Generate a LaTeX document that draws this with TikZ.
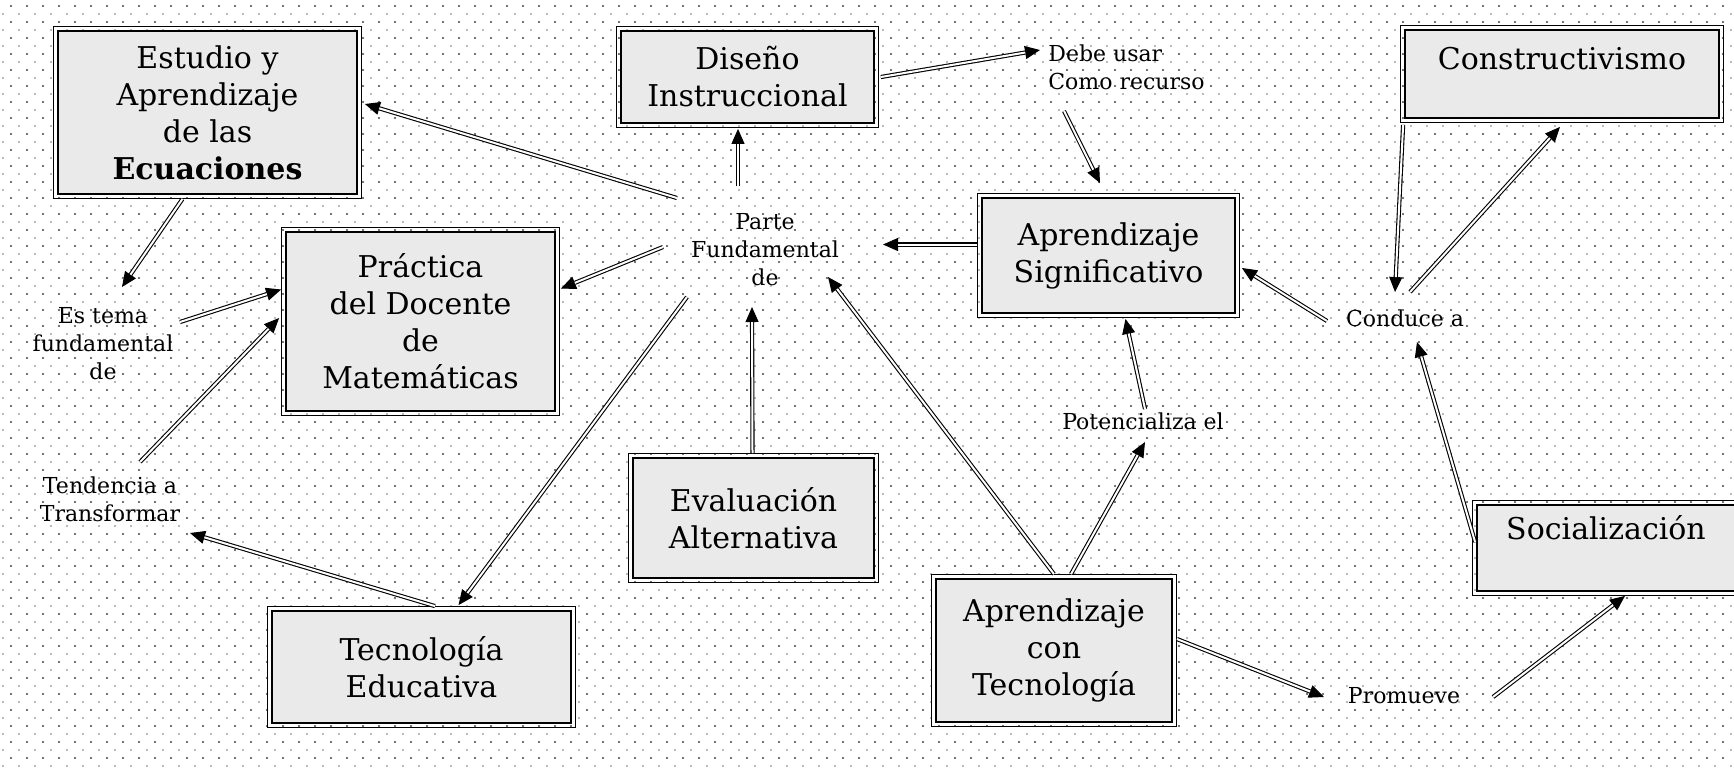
\documentclass[tikz,border=0pt]{standalone}
\usepackage{fontspec}
\setmainfont{DejaVu Serif}
\usetikzlibrary{arrows.meta,calc}
\definecolor{boxfill}{RGB}{234,234,234}
\definecolor{dotc}{RGB}{70,70,70}
\definecolor{dotl}{RGB}{115,115,115}
\newcommand{\bigf}{\fontsize{15}{18.5}\selectfont}
\newcommand{\smallf}{\fontsize{11}{14}\selectfont}
\newcommand{\dar}[2]{\draw[tipln] #1 -- #2; \draw[dln] #1 -- #2;}
\begin{document}
\begin{tikzpicture}[x=0.5pt,y=-0.5pt,
  box/.style={draw, line width=0.9pt, fill=boxfill, inner sep=0pt, align=center, font=\bigf},
  boxone/.style={draw, line width=0.9pt, fill=boxfill, inner sep=0pt, font=\bigf},
  lab/.style={align=center, font=\smallf, inner sep=1pt},
  dotrow/.style={draw=dotc, line width=1.05pt, line cap=round, dash pattern=on 0pt off 8pt},
  dotrowl/.style={draw=dotl, line width=0.8pt, line cap=round, dash pattern=on 0pt off 8pt},
  tipln/.style={line width=0.5pt, -{Triangle[length=7.5pt,width=6.5pt]}},
  dln/.style={draw, double=white, double distance=1pt, line width=0.55pt, shorten >=7.5pt}]
\useasboundingbox (0,0) rectangle (1734,768);
\clip (0,0) rectangle (1734,768);
\fill[white] (0,0) rectangle (1734,768);
\foreach \j in {0,...,47} {
  \draw[dotrow] (11,6+\j*16) -- (1745,6+\j*16);
  \draw[dotrowl] (3,14+\j*16) -- (1745,14+\j*16);
}

% boxes
\node[box, minimum width=149.5pt, minimum height=81.5pt] (estudio) at (207.5,112.5) {Estudio y\\Aprendizaje\\de las\\\textbf{Ecuaciones}};
\node[box, minimum width=126.5pt, minimum height=46pt] (diseno) at (747.5,77) {Diseño\\Instruccional};
\node[boxone, minimum width=157pt, text height=19.75pt, text depth=24.25pt] (constr) at (1562,74) {Constructivismo};
\node[box, minimum width=134.5pt, minimum height=89.5pt] (practica) at (420.5,321.5) {Práctica\\del Docente\\de\\Matemáticas};
\node[box, minimum width=126.5pt, minimum height=57.5pt] (signif) at (1108.5,255.5) {Aprendizaje\\Significativo};
\node[box, minimum width=120.5pt, minimum height=60pt] (evalu) at (753.5,518) {Evaluación\\Alternativa};
\node[box, minimum width=149.5pt, minimum height=56pt] (tecedu) at (421.5,667) {Tecnología\\Educativa};
\node[box, minimum width=118pt, minimum height=71.5pt] (contec) at (1054,650.5) {Aprendizaje\\con\\Tecnología};
\node[boxone, minimum width=129pt, text height=17pt, text depth=26pt] (social) at (1606,548) {Socialización};

\foreach \n in {estudio,diseno,constr,practica,signif,evalu,tecedu,contec,social}
  \draw[line width=0.5pt] ($(\n.north west)+(-4,-4)$) rectangle ($(\n.south east)+(4,4)$);

% labels
\node[lab] (parte) at (765,250) {Parte\\Fundamental\\de};
\node[lab] (estema) at (103,344) {Es tema\\fundamental\\de};
\node[lab] (tend) at (110,499) {Tendencia a\\Transformar};
\node[lab, align=left, anchor=west] (debe) at (1046,67) {Debe usar\\Como recurso};
\node[lab] (potenc) at (1143,421) {Potencializa el};
\node[lab] (conduce) at (1405,318) {Conduce a};
\node[lab] (promueve) at (1404,696) {Promueve};

% connectors
\dar{($(parte)+(-88,-52)$)}{($(estudio.east)+(7,-8.5)$)}
\dar{($(parte)+(-27,-64)$)}{($(diseno.south)+(-9.5,5)$)}
\dar{($(parte)+(-102,-3)$)}{($(practica.east)+(5,-33)$)}
\dar{($(parte)+(-78,47)$)}{($(tecedu.north)+(37,-5)$)}
\dar{($(evalu.north)+(-1,-4)$)}{($(parte)+(-13,57)$)}
\dar{($(contec.north)+(0,-4)$)}{($(parte)+(63,27)$)}
\dar{($(signif.west)+(-4,-11)$)}{($(parte)+(118,-5.5)$)}
\dar{($(diseno.east)+(6,0)$)}{($(debe.west)+(-6,-17)$)}
\dar{($(debe.west)+(18,44)$)}{($(signif.north)+(-8.5,-14)$)}
\dar{($(estudio.south)+(-25,4)$)}{($(estema)+(19,-57)$)}
\dar{($(estema)+(77,-22)$)}{($(practica.west)+(-4,-32)$)}
\dar{($(tend)+(30,-37)$)}{($(practica.west)+(-6,-3.5)$)}
\dar{($(tecedu.north)+(13.5,-4)$)}{($(tend)+(80,34)$)}
\dar{($(contec.north)+(17,-4)$)}{($(potenc)+(2,21)$)}
\dar{($(potenc)+(2,-12)$)}{($(signif.south)+(17,5)$)}
\dar{($(conduce)+(-78,3)$)}{($(signif.east)+(6,12.5)$)}
\dar{($(constr.south west)+(-1,6)$)}{($(conduce)+(-10,-26)$)}
\dar{($(conduce)+(5,-26)$)}{($(constr.south)+(-2,8)$)}
\dar{($(social.west)+(-1,-6)$)}{($(conduce)+(12,24)$)}
\dar{($(contec.east)+(4,-11.5)$)}{($(promueve)+(-80,1)$)}
\dar{($(promueve)+(89,1)$)}{($(social.south)+(19,4)$)}
\end{tikzpicture}
\end{document}
